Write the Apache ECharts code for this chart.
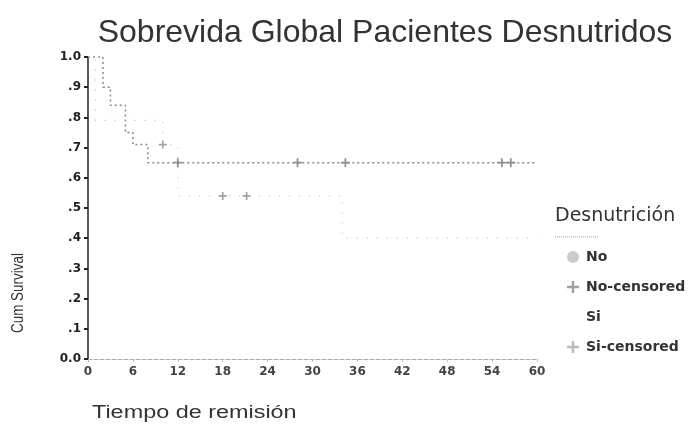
<!DOCTYPE html>
<html>
<head>
<meta charset="utf-8">
<script src="https://cdn.jsdelivr.net/npm/echarts@6/dist/echarts.min.js"></script>
<style>
  html, body { margin: 0; padding: 0; background: #fff; }
  #chart { width: 691px; height: 424px; }
</style>
</head>
<body>
<div id="chart"></div>
<script>
// Kaplan-Meier steps: [months, cumulative survival]
var noSteps = [[0, 1.0], [2, 0.90], [3, 0.84], [5, 0.75], [6, 0.71], [8, 0.65], [60, 0.65]];
var noCensored = [[12, 0.65], [28, 0.65], [34.4, 0.65], [55.3, 0.65], [56.5, 0.65]];
var siSteps = [[0, 1.0], [1, 0.79], [10, 0.71], [12, 0.54], [34, 0.40], [60, 0.40]];
var siCensored = [[10, 0.71], [18, 0.54], [21.2, 0.54]];
var yTickLabels = ['0.0', '.1', '.2', '.3', '.4', '.5', '.6', '.7', '.8', '.9', '1.0'];
var legendNames = ['No', 'No-censored', 'Si', 'Si-censored'];

var plus = 'path://M4,0H6V4H10V6H6V10H4V6H0V4H4Z';
var font = 'Liberation Sans, Arial, sans-serif';
var wide = 'DejaVu Sans, sans-serif';

var chart = echarts.init(document.getElementById('chart'));
chart.setOption({
    backgroundColor: '#fff',
    animation: false,
    title: {
        text: 'Sobrevida Global Pacientes Desnutridos',
        left: 380,
        textAlign: 'center',
        top: 12,
        textStyle: { fontFamily: font, fontSize: 32, fontWeight: 'normal', color: '#333' }
    },
    grid: { left: 88, right: 154, top: 57, bottom: 65 },
    xAxis: {
        type: 'value',
        min: 0,
        max: 60,
        interval: 6,
        axisLine: { lineStyle: { color: '#aaa', type: 'dashed', width: 1 } },
        axisTick: { show: true, length: 3, lineStyle: { color: '#bbb' } },
        axisLabel: { color: '#444', fontFamily: wide, fontSize: 12, fontWeight: 'bold', margin: 7 },
        splitLine: { show: false }
    },
    yAxis: {
        type: 'value',
        min: 0,
        max: 1,
        interval: 0.1,
        axisLine: { show: true, lineStyle: { color: '#222', width: 1.5 } },
        axisTick: { show: true, length: 4, lineStyle: { color: '#222', width: 2 } },
        axisLabel: {
            color: '#222', fontFamily: wide, fontSize: 12, fontWeight: 'bold', margin: 7,
            formatter: function (v) { return yTickLabels[Math.round(v * 10)]; }
        },
        splitLine: { show: false }
    },
    legend: {
        orient: 'vertical',
        left: 562,
        top: 245,
        itemWidth: 12,
        itemHeight: 14,
        itemGap: 16,
        textStyle: {
            fontFamily: wide, fontSize: 14, fontWeight: 'bold', color: '#333',
            lineHeight: 14, padding: [0, 0, 0, 2]
        },
        data: [
            { name: legendNames[0], icon: 'circle', itemStyle: { color: '#ccc' } },
            { name: legendNames[1], icon: plus, itemStyle: { color: '#888' } },
            { name: legendNames[2], icon: 'circle', itemStyle: { color: 'rgba(0,0,0,0)' } },
            { name: legendNames[3], icon: plus, itemStyle: { color: '#aaa' } }
        ]
    },
    graphic: [
        {
            type: 'text', left: 555, top: 207,
            style: { text: 'Desnutrición', font: '19px ' + wide, fill: '#333' }
        },
        {
            type: 'line', shape: { x1: 555, y1: 237, x2: 598, y2: 237 },
            style: { stroke: '#999', lineWidth: 1, lineDash: [1, 1] }
        },
        {
            type: 'text', x: 11, y: 333, rotation: Math.PI / 2, scaleX: 0.84,
            style: { text: 'Cum Survival', font: '16px ' + font, fill: '#333' }
        },
        {
            type: 'text', x: 92, y: 404, scaleX: 1.3,
            style: { text: 'Tiempo de remisión', font: '18px ' + font, fill: '#333' }
        }
    ],
    series: [
        {
            name: legendNames[0],
            type: 'line',
            step: 'end',
            data: noSteps,
            showSymbol: false,
            lineStyle: { color: '#888', width: 1.5, type: [2, 3] },
            itemStyle: { color: '#888' }
        },
        {
            name: legendNames[1],
            type: 'scatter',
            data: noCensored,
            symbol: plus,
            symbolSize: 9,
            itemStyle: { color: '#777' }
        },
        {
            name: legendNames[2],
            type: 'line',
            step: 'end',
            data: siSteps,
            showSymbol: false,
            lineStyle: { color: '#bbb', width: 1.2, type: [1, 9] },
            itemStyle: { color: '#bbb' }
        },
        {
            name: legendNames[3],
            type: 'scatter',
            data: siCensored,
            symbol: plus,
            symbolSize: 8,
            itemStyle: { color: '#888' }
        }
    ]
});
</script>
</body>
</html>
